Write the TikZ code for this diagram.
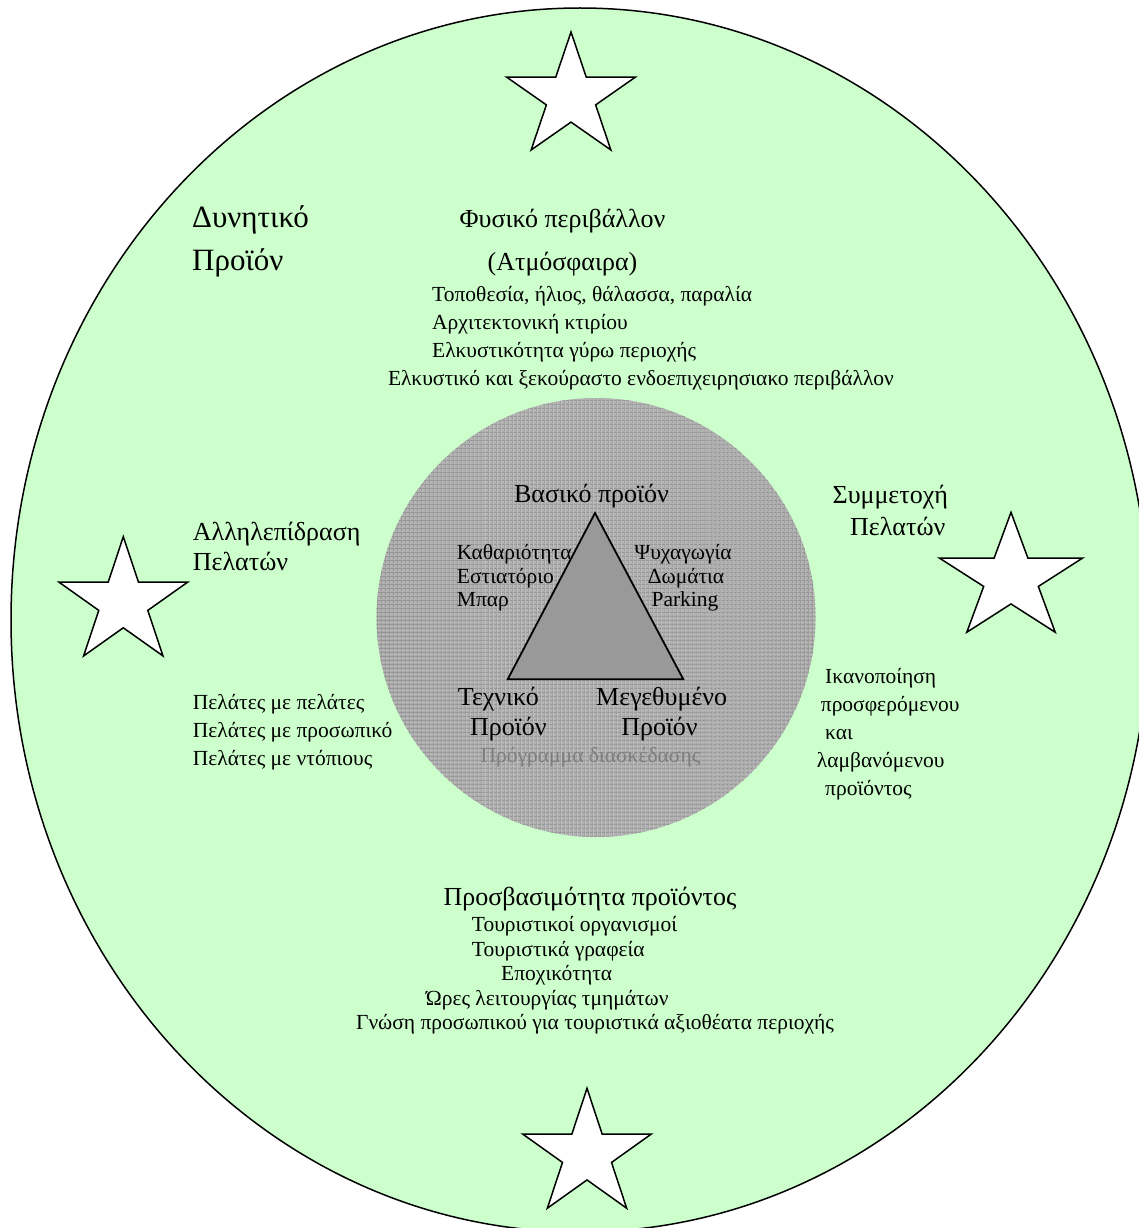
\documentclass[tikz,border=0pt]{standalone}
\usepackage{fontspec}
\setmainfont{Liberation Serif}
\usetikzlibrary{patterns.meta}
\definecolor{outergreen}{HTML}{CCFFCC}
\definecolor{innergray}{HTML}{B4B4B4}
\definecolor{gridgray}{HTML}{959595}
\definecolor{trigray}{HTML}{999999}
\definecolor{progray}{HTML}{7E7E7E}
\tikzset{
  outline/.style={draw=black, line width=1.5pt},
  bigtext/.style={font=\fontsize{31}{36}\selectfont, inner sep=0pt},
  midtext/.style={font=\fontsize{26}{30}\selectfont, inner sep=0pt},
  smalltext/.style={font=\fontsize{21.5}{25}\selectfont, inner sep=0pt},
  starfill/.style={draw=black, fill=white, line width=1.5pt, line join=miter},
}
\newcommand{\drawstar}[4]{%
  \begin{scope}[shift={(#1,#2)}, x=#3pt, y=#4pt]
    \path[starfill] (90:1) -- (126:0.382) -- (162:1) -- (198:0.382) -- (234:1)
      -- (270:0.382) -- (306:1) -- (342:0.382) -- (18:1) -- (54:0.382) -- cycle;
  \end{scope}}
\begin{document}
\begin{tikzpicture}[x=1pt, y=-1pt]
\useasboundingbox (0,0) rectangle (1139,1228);
\clip (0,0) rectangle (1139,1228);
% outer ellipse
\path[outline, fill=outergreen] (580,620) ellipse [x radius=569, y radius=612];
% inner circle
\fill[innergray] (596,617.5) circle [radius=219.5];
\fill[pattern={Lines[angle=0, distance=4pt, line width=1.1pt]}, pattern color=gridgray] (596,617.5) circle [radius=219.5];
\fill[pattern={Lines[angle=90, distance=4pt, line width=1.1pt]}, pattern color=gridgray] (596,617.5) circle [radius=219.5];
% triangle
\coordinate (apex) at (595,513);
\coordinate (bl) at (507.7,679.3);
\coordinate (br) at (683.3,679.3);
\path[draw=black, line width=1.8pt, fill=trigray, line join=miter] (apex) -- (bl) -- (br) -- cycle;
% stars
\drawstar{571}{97.2}{67.8}{65.2}
\drawstar{123.3}{602.6}{67.5}{65.9}
\drawstar{1011}{578.6}{75.2}{66.3}
\drawstar{587}{1154.6}{67.5}{66.3}
% top-left
\node[bigtext, anchor=base west] (dyn1) at (192,227) {Δυνητικό};
\node[bigtext, anchor=base west] (dyn2) at (192,270) {Προϊόν};
% top block
\node[midtext, anchor=base] (phys1) at (562.5,227) {Φυσικό περιβάλλον};
\node[midtext, anchor=base] (phys2) at (562.5,270) {(Ατμόσφαιρα)};
\node[smalltext, anchor=base west] (t1) at (432,301) {Τοποθεσία, ήλιος, θάλασσα, παραλία};
\node[smalltext, anchor=base west] (t2) at (432,329) {Αρχιτεκτονική κτιρίου};
\node[smalltext, anchor=base west] (t3) at (432,357) {Ελκυστικότητα γύρω περιοχής};
\node[smalltext, anchor=base] (t4) at (641,385) {Ελκυστικό και ξεκούραστο ενδοεπιχειρησιακο περιβάλλον};
% core
\node[midtext, anchor=base] (basic) at (591.5,502.7) {Βασικό προϊόν};
\node[smalltext, anchor=base west] (c1) at (456.7,559) {Καθαριότητα};
\node[smalltext, anchor=base west] (c2) at (456.7,583.3) {Εστιατόριο};
\node[smalltext, anchor=base west] (c3) at (456.7,606) {Μπαρ};
\node[smalltext, anchor=base] (e1) at (683,559) {Ψυχαγωγία};
\node[smalltext, anchor=base] (e2) at (686,583.3) {Δωμάτια};
\node[smalltext, anchor=base] (e3) at (685,606.5) {Parking};
\node[midtext, anchor=base] (tech1) at (498.3,705) {Τεχνικό};
\node[midtext, anchor=base] (tech2) at (508.3,735.7) {Προϊόν};
\node[midtext, anchor=base] (aug1) at (661.7,705) {Μεγεθυμένο};
\node[midtext, anchor=base] (aug2) at (659.5,735.7) {Προϊόν};
\node[smalltext, anchor=base, text=progray] (prog) at (590.5,762.7) {Πρόγραμμα διασκέδασης};
% left block
\node[midtext, anchor=base west] (int1) at (192.7,540) {Αλληλεπίδραση};
\node[midtext, anchor=base west] (int2) at (192.7,570.7) {Πελατών};
\node[smalltext, anchor=base west] (p1) at (192.7,709) {Πελάτες με πελάτες};
\node[smalltext, anchor=base west] (p2) at (192.7,737.3) {Πελάτες με προσωπικό};
\node[smalltext, anchor=base west] (p3) at (192.7,765) {Πελάτες με ντόπιους};
% right block
\node[midtext, anchor=base] (part1) at (890.3,503.3) {Συμμετοχή};
\node[midtext, anchor=base] (part2) at (897.8,535.7) {Πελατών};
\node[smalltext, anchor=base west] (s1) at (825,683) {Ικανοποίηση};
\node[smalltext, anchor=base west] (s2) at (820.7,711) {προσφερόμενου};
\node[smalltext, anchor=base west] (s3) at (825,739) {και};
\node[smalltext, anchor=base west] (s4) at (816.7,767) {λαμβανόμενου};
\node[smalltext, anchor=base west] (s5) at (825,795) {προϊόντος};
% bottom block
\node[midtext, anchor=base] (acc) at (590,905) {Προσβασιμότητα προϊόντος};
\node[smalltext, anchor=base west] (b1) at (471.7,931.7) {Τουριστικοί οργανισμοί};
\node[smalltext, anchor=base west] (b2) at (471.7,956) {Τουριστικά γραφεία};
\node[smalltext, anchor=base] (b3) at (556.7,980.3) {Εποχικότητα};
\node[smalltext, anchor=base] (b4) at (547.2,1005) {Ώρες λειτουργίας τμημάτων};
\node[smalltext, anchor=base] (b5) at (595,1029.3) {Γνώση προσωπικού για τουριστικά αξιοθέατα περιοχής};
\end{tikzpicture}
\end{document}
